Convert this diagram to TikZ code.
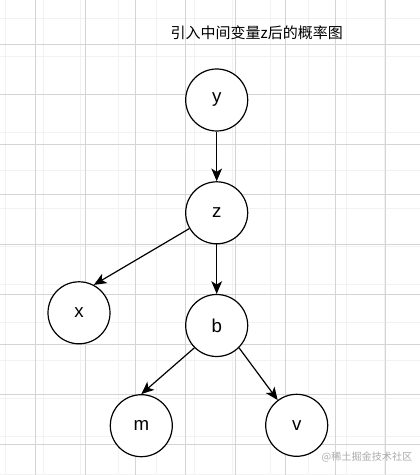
\documentclass[tikz,border=0pt]{standalone}
\usepackage{fontspec}
\setmainfont{Liberation Sans}
\newfontfamily\cjk{Noto Sans CJK SC}
\usetikzlibrary{arrows.meta}
\definecolor{gridminor}{HTML}{F2F2F2}
\definecolor{gridmajor}{HTML}{D4D4D4}
\definecolor{markgray}{HTML}{ABABAB}

\begin{document}
\begin{tikzpicture}[x=7.5pt, y=7.5pt,
	var/.style={draw=black, line width=0.9pt, circle, fill=white, minimum size=46.5pt, inner sep=0pt, font=\fontsize{14}{16}\selectfont},
	link/.style={line width=0.9pt, -{Stealth[length=9.5pt, width=8pt, inset=2.5pt]}}]
	\useasboundingbox (0, 0) rectangle (42, 47.5);
	\clip (0, 0) rectangle (42, 47.5);
	\fill[white] (0, 0) rectangle (42, 47.5);
	\draw[gridminor, line width=0.6pt, shift={(0.5, 0.1)}] (-1, -1) grid (42, 48);
	\draw[gridmajor, line width=0.6pt, shift={(3.5, 3.1)}, step=5] (-5, -5) grid (40, 45);

	\node (title) at (25.67, 44.23) {\cjk\fontsize{11.25}{13}\selectfont 引入中间变量z后的概率图};

	\node[var] (ny) at (21.67, 37.5) {y};
	\node[var] (nz) at (21.67, 26.22) {z};
	\node[var] (nx) at (7.9, 16.22) {x};
	\node[var] (nb) at (21.67, 14.95) {b};
	\node[var] (nm) at (14.13, 4.93) {m};
	\node[var] (nv) at (29.67, 4.97) {v};

	\draw[link] (ny) -- (nz);
	\draw[link] (nz) -- (nb);
	\draw[link] (nz.210) -- (nx.62);
	\draw[link] (nb.225) -- (nm.north);
	\draw[link] (nb.315) -- (nv.127);

	\node[markgray] (mark) at (36.7, 1.8) {\cjk\fontsize{7.6}{9}\selectfont @稀土掘金技术社区};
\end{tikzpicture}
\end{document}
